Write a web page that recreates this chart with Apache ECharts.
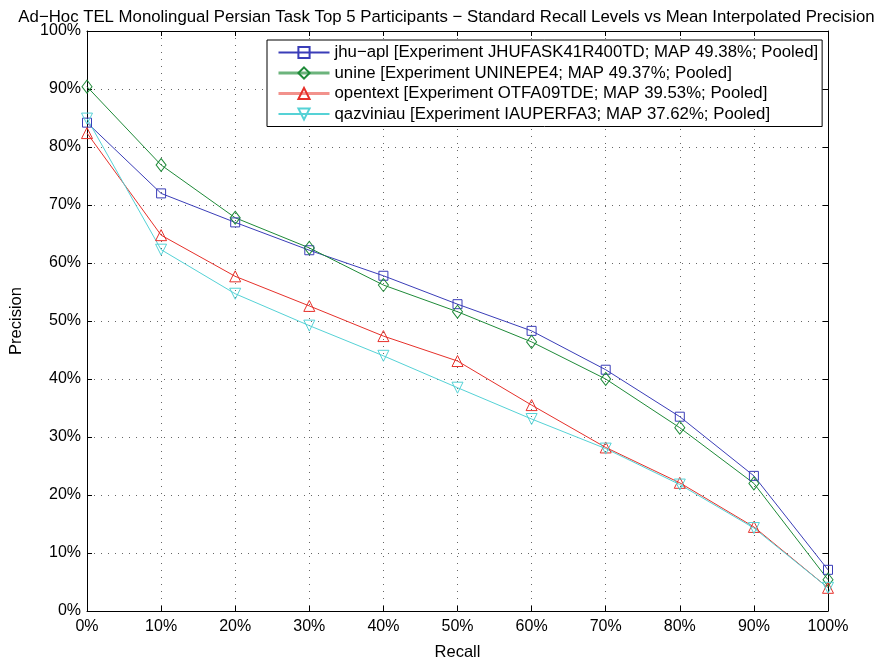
<!DOCTYPE html>
<html>
<head>
<meta charset="utf-8">
<script src="https://cdn.jsdelivr.net/npm/echarts@6/dist/echarts.min.js"></script>
<style>
  html, body { margin: 0; padding: 0; background: #fff; }
  #chart { width: 893px; height: 666px; }
</style>
</head>
<body>
<div id="chart"></div>
<script>
// recall levels (x) and mean interpolated precision per participant (y), in %
const recall = [0, 10, 20, 30, 40, 50, 60, 70, 80, 90, 100]
const jhuApl = [84.2, 72.0, 67.0, 62.2, 57.8, 52.9, 48.3, 41.6, 33.5, 23.3, 7.1]
const unine = [90.4, 76.9, 67.8, 62.6, 56.2, 51.6, 46.4, 40.0, 31.6, 22.0, 5.4]
const opentext = [82.4, 64.8, 57.7, 52.6, 47.4, 43.1, 35.5, 28.2, 22.1, 14.5, 4.0]
const qazviniau = [84.9, 62.3, 54.7, 49.2, 44.0, 38.5, 33.1, 28.0, 21.8, 14.3, 4.0]

const names = [
  'jhu−apl [Experiment JHUFASK41R400TD; MAP 49.38%; Pooled]',
  'unine [Experiment UNINEPE4; MAP 49.37%; Pooled]',
  'opentext [Experiment OTFA09TDE; MAP 39.53%; Pooled]',
  'qazviniau [Experiment IAUPERFA3; MAP 37.62%; Pooled]',
]

const FONT = 'Liberation Sans'

function pts(values) {
  return recall.map((r, i) => [r, values[i]])
}

function makeSeries(name, values, color, symbol, size, rotate) {
  return {
    name: name,
    type: 'line',
    data: pts(values),
    symbol: symbol,
    symbolSize: size,
    symbolRotate: rotate || 0,
    lineStyle: { color: color, width: 1 },
    itemStyle: { color: 'rgba(255,255,255,0)', borderColor: color, borderWidth: 1 },
    emphasis: { disabled: true },
    animation: false,
    z: 3,
  }
}

const gridLine = { show: true, lineStyle: { color: '#666', width: 1, type: [1, 6] } }
const axisLine = { show: true, onZero: false, lineStyle: { color: '#000', width: 1 } }
const tick = { show: true, inside: true, length: 5, lineStyle: { color: '#000' } }

var chart = echarts.init(document.getElementById('chart'))
var option = {
  backgroundColor: '#fff',
  animation: false,
  title: {
    text: 'Ad−Hoc TEL Monolingual Persian Task Top 5 Participants − Standard Recall Levels vs Mean Interpolated Precision',
    left: 'center',
    top: 4,
    textStyle: { fontFamily: FONT, fontSize: 16.8, fontWeight: 'normal', color: '#000' },
  },
  grid: { left: 78, right: 65, top: 31, bottom: 44, containLabel: false },
  legend: {
    orient: 'vertical',
    left: 267,
    top: 40,
    data: [
      { name: names[0] },
      { name: names[1], lineStyle: { width: 3, color: '#6cb47c' } },
      { name: names[2], lineStyle: { width: 3, color: '#f2928c' } },
      { name: names[3] },
    ],
    backgroundColor: '#fff',
    borderColor: '#000',
    borderWidth: 1,
    padding: [4, 4, 4, 10],
    itemWidth: 51,
    itemHeight: 14,
    itemGap: 3.5,
    textStyle: { fontFamily: FONT, fontSize: 16.8, color: '#000' },
    selectedMode: false,
  },
  xAxis: [
    {
      type: 'value', min: 0, max: 100, interval: 10,
      name: 'Recall', nameLocation: 'middle', nameGap: 33,
      nameTextStyle: { fontFamily: FONT, fontSize: 16.5, color: '#000' },
      axisLine: axisLine, axisTick: tick, splitLine: gridLine,
      axisLabel: { formatter: '{value}%', fontFamily: FONT, fontSize: 16, color: '#000', margin: 8 },
    },
    {
      type: 'value', min: 0, max: 100, interval: 10, position: 'top',
      axisLine: axisLine, axisTick: tick, splitLine: { show: false }, axisLabel: { show: false },
    },
  ],
  yAxis: [
    {
      type: 'value', min: 0, max: 100, interval: 10,
      name: 'Precision', nameLocation: 'middle', nameGap: 62,
      nameTextStyle: { fontFamily: FONT, fontSize: 16.5, color: '#000' },
      axisLine: axisLine, axisTick: tick, splitLine: gridLine,
      axisLabel: { formatter: '{value}%', fontFamily: FONT, fontSize: 16, color: '#000', margin: 6 },
    },
    {
      type: 'value', min: 0, max: 100, interval: 10, position: 'right',
      axisLine: axisLine, axisTick: tick, splitLine: { show: false }, axisLabel: { show: false },
    },
  ],
  series: [
    makeSeries(names[0], jhuApl, '#3a3db8', 'rect', 9),
    makeSeries(names[1], unine, '#1e8a38', 'diamond', [10, 13]),
    makeSeries(names[2], opentext, '#e6302a', 'triangle', 11),
    makeSeries(names[3], qazviniau, '#55d2d6', 'triangle', 11, 180),
  ],
}
chart.setOption(option)
</script>
</body>
</html>
